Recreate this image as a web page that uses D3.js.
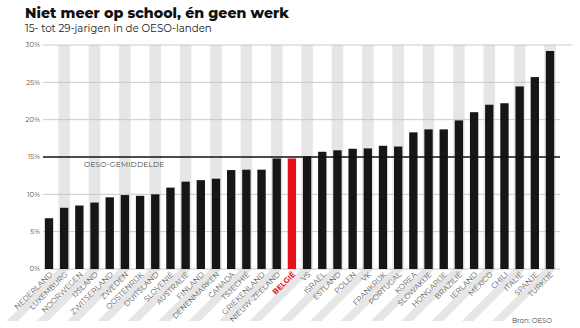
<!DOCTYPE html>
<html><head><meta charset="utf-8">
<script src="https://cdn.jsdelivr.net/npm/d3@7"></script>
<style>body{margin:0;background:#fff;}svg{display:block;}</style>
</head><body>
<script>
const countries = ["NEDERLAND","LUXEMBURG","NOORWEGEN","IJSLAND","ZWITSERLAND","ZWEDEN","OOSTENRIJK","DUITSLAND","SLOVENIË","AUSTRALIË","FINLAND","DENENMARKEN","CANADA","TSJECHIË","GRIEKENLAND","NIEUW-ZEELAND","BELGIË","VS","ISRAËL","ESTLAND","POLEN","VK","FRANKRIJK","PORTUGAL","KOREA","SLOWAKIJE","HONGARIJE","BRAZILIË","IERLAND","MEXICO","CHILI","ITALIË","SPANJE","TURKIJE"];
const values = [6.8,8.2,8.5,8.9,9.6,9.9,9.8,10.0,10.9,11.7,11.9,12.1,13.25,13.3,13.3,14.8,14.8,15.1,15.7,15.9,16.1,16.15,16.5,16.4,18.3,18.7,18.7,19.9,21.0,22.0,22.2,24.45,25.7,29.2];
const highlight = "BELGIË";
const oecdAverage = 15;
const yTicks = [0,5,10,15,20,25,30];
const title = "Niet meer op school, én geen werk";
const subtitle = "15- tot 29-jarigen in de OESO-landen";
const avgLabel = "OESO-GEMIDDELDE";
const source = "Bron: OESO";

const W = 580, H = 328;
const svg = d3.select("body").append("svg").attr("width", W).attr("height", H);
const font = "'Montserrat','Lato','Open Sans',sans-serif";

const x = d3.scaleBand().domain(countries).range([41.4, 557.6]).paddingInner(0.45).paddingOuter(0.225);
const y = d3.scaleLinear().domain([0, 30]).range([269, 45]);
const step = x.step();
const sw = step * 0.76;
const bottomY = 321;

// stripes (columns + diagonal bands)
svg.append("g").selectAll("path").data(countries.filter((d, i) => i % 2 === 1)).join("path")
  .attr("fill", "#e6e6e6")
  .attr("d", d => {
    const cx = x(d) + x.bandwidth() / 2;
    const l = cx - sw / 2, r = cx + sw / 2;
    const top = y(30), base = y(0);
    const dy = bottomY - base;
    return `M${l},${top}L${r},${top}L${r},${base}L${r - dy},${bottomY}L${l - dy},${bottomY}L${l},${base}Z`;
  });

// gridlines
const grid = svg.append("g");
grid.selectAll("line").data(yTicks.filter(t => t !== oecdAverage)).join("line")
  .attr("x1", 43).attr("x2", d => d === 30 ? 572 : 560)
  .attr("y1", d => y(d)).attr("y2", d => y(d))
  .attr("stroke", "#c4c4c4").attr("stroke-width", 0.9);

// y labels
svg.append("g").selectAll("text").data(yTicks).join("text")
  .attr("x", 40).attr("y", d => y(d)).attr("dy", "0.35em")
  .attr("text-anchor", "end").attr("font-family", font).attr("font-size", 7)
  .attr("fill", "#555").text(d => d + "%");

// bars
svg.append("g").selectAll("rect").data(countries).join("rect")
  .attr("x", d => x(d)).attr("width", x.bandwidth())
  .attr("y", (d, i) => y(values[i])).attr("height", (d, i) => y(0) - y(values[i]))
  .attr("fill", d => d === highlight ? "#e2111b" : "#161616");

// OECD average line
svg.append("line").attr("x1", 43).attr("x2", 560)
  .attr("y1", y(oecdAverage)).attr("y2", y(oecdAverage))
  .attr("stroke", "#111").attr("stroke-width", 1.4);
svg.append("text").attr("x", 84).attr("y", y(oecdAverage) + 7).attr("dy", "0.35em")
  .attr("font-family", font).attr("font-size", 7.4).attr("fill", "#444")
  .attr("letter-spacing", 0.2).text(avgLabel);

// x labels
svg.append("g").selectAll("text").data(countries).join("text")
  .attr("transform", d => `translate(${x(d) + x.bandwidth() / 2 + 2},${y(0) + 4}) rotate(-45)`)
  .attr("text-anchor", "end").attr("dy", "0.35em")
  .attr("font-family", font).attr("font-size", 7.5)
  .attr("font-weight", d => d === highlight ? "bold" : "normal")
  .attr("fill", d => d === highlight ? "#e2111b" : "#5a5a5a")
  .text(d => d);

// titles
const t = svg.append("text").attr("x", 25).attr("y", 18)
  .attr("font-family", font).attr("font-weight", 800).attr("font-size", 17)
  .attr("fill", "#111").text(title);
const tw = t.node().getComputedTextLength();
t.attr("font-size", 17 * 264 / tw);
const s = svg.append("text").attr("x", 25).attr("y", 32)
  .attr("font-family", font).attr("font-size", 10.5)
  .attr("fill", "#222").text(subtitle);
const sw2 = s.node().getComputedTextLength();
s.attr("font-size", 10.5 * 187 / sw2);

svg.append("text").attr("x", 512).attr("y", 321).attr("dy", "0.35em")
  .attr("font-family", font).attr("font-size", 6.8).attr("fill", "#444").text(source);
</script>
</body></html>
